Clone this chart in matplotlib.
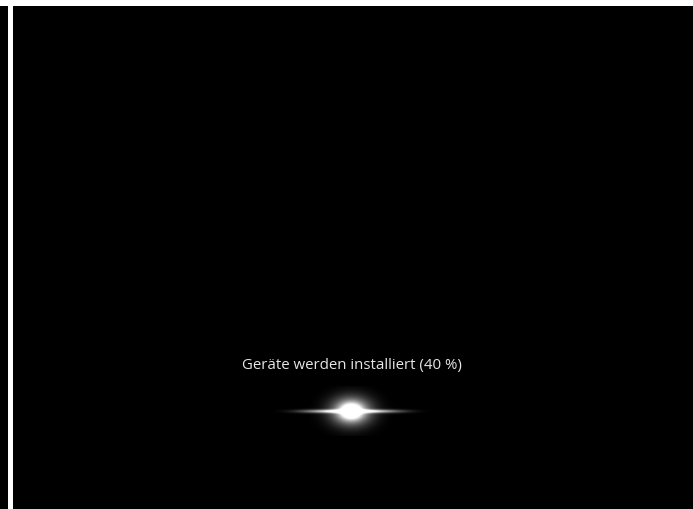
import numpy as np
import matplotlib
matplotlib.use("Agg")
import matplotlib.pyplot as plt
from matplotlib.patches import Rectangle

# contenu de l'ecran
message = "Geräte werden installiert"
pourcentage = 40

# lueur de progression (centre, demi-largeur de la trainee, rayon du halo)
lueur_centre = (351, 413)
lueur_trainee = 48
lueur_rayon = 14

W, H = 693, 510
fig = plt.figure(figsize=(W / 100, H / 100), dpi=100, facecolor="black")
ax = fig.add_axes([0, 0, 1, 1])
ax.set_xlim(0, W)
ax.set_ylim(H, 0)
ax.axis("off")
ax.set_facecolor("black")

# bandes blanches (bord de la capture)
ax.add_patch(Rectangle((0, 0), W, 6.5, color="white", lw=0))
ax.add_patch(Rectangle((8, 0), 5, H, color="white", lw=0))

# texte
ax.text(352, 366, f"{message} ({pourcentage} %)", color="#e6e6e6",
        fontsize=10.8, family=["Open Sans", "DejaVu Sans"],
        ha="center", va="center")

# lueur : halo + trainee horizontale
cx, cy = lueur_centre
xs = np.arange(cx - 100, cx + 100, 0.5)
ys = np.arange(cy - 25, cy + 25, 0.5)
X, Y = np.meshgrid(xs, ys)
dx = X - cx
dy = Y - cy
halo = np.exp(-(dx**2 / (2 * lueur_rayon**2) + dy**2 / (2 * (lueur_rayon * 0.7)**2)))
coeur = np.exp(-(dx**2 / (2 * 7**2) + dy**2 / (2 * 5**2)))
trainee = np.exp(-dy**2 / (2 * 1.2**2)) * np.exp(-(np.abs(dx) / lueur_trainee)**3)
img = np.clip(0.9 * halo + 0.9 * coeur + 0.95 * trainee, 0, 1)
rgba = np.zeros(img.shape + (4,))
rgba[..., :3] = 1.0
rgba[..., 3] = img
ax.imshow(rgba, extent=(xs[0], xs[-1], ys[-1], ys[0]), interpolation="bilinear", zorder=3)

fig.savefig("out.png", dpi=100, facecolor="black")
